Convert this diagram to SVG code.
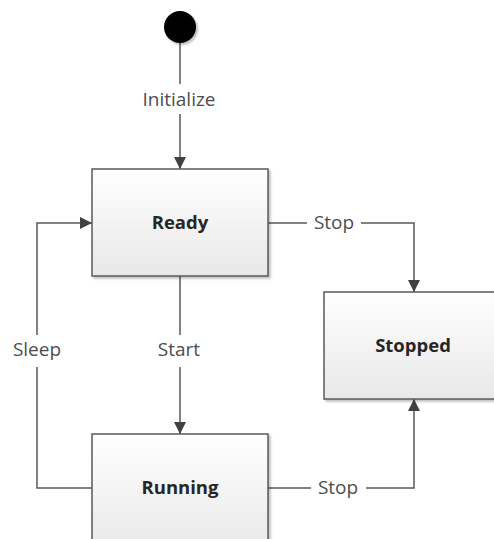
<svg xmlns="http://www.w3.org/2000/svg" width="494" height="539" viewBox="0 0 494 539">
  <defs>
    <linearGradient id="boxFill" x1="0" y1="0" x2="0" y2="1">
      <stop offset="0" stop-color="#ffffff"/>
      <stop offset="1" stop-color="#e8e8e8"/>
    </linearGradient>
    <filter id="shadow" x="-10%" y="-10%" width="125%" height="125%">
      <feGaussianBlur in="SourceAlpha" stdDeviation="1.2"/>
      <feOffset dx="1.5" dy="1.5" result="b"/>
      <feComponentTransfer><feFuncA type="linear" slope="0.25"/></feComponentTransfer>
      <feMerge><feMergeNode/><feMergeNode in="SourceGraphic"/></feMerge>
    </filter>
    <marker id="arrow" viewBox="0 0 12 12" refX="12" refY="6" markerWidth="12" markerHeight="12" markerUnits="userSpaceOnUse" orient="auto">
      <path d="M0,0 L12,6 L0,12 z" fill="#404040"/>
    </marker>
  </defs>
  <style>
    .state { fill: url(#boxFill); stroke: #595959; stroke-width: 1.5; filter: url(#shadow); }
    .name { font-family: "Open Sans", "Liberation Sans", sans-serif; font-size: 18.5px; font-weight: bold; fill: #262626; text-anchor: middle; }
    .edge { fill: none; stroke: #595959; stroke-width: 1.5; }
    .label { font-family: "Open Sans", "Liberation Sans", sans-serif; font-size: 19px; fill: #4d4d4d; text-anchor: middle; }
  </style>

  <rect width="494" height="539" fill="#ffffff"/>

  <!-- transitions -->
  <g id="connectors">
    <path class="edge" d="M180,43 V84"/>
    <path class="edge" d="M180,114 V169" marker-end="url(#arrow)"/>
    <text class="label" x="179" y="106">Initialize</text>

    <path class="edge" d="M268,223 H307"/>
    <path class="edge" d="M361,223 H414 V292" marker-end="url(#arrow)"/>
    <text class="label" x="334" y="229">Stop</text>

    <path class="edge" d="M180,276 V335"/>
    <path class="edge" d="M180,367 V434" marker-end="url(#arrow)"/>
    <text class="label" x="179" y="356">Start</text>

    <path class="edge" d="M92,488 H37 V367"/>
    <path class="edge" d="M37,335 V223 H92" marker-end="url(#arrow)"/>
    <text class="label" x="37" y="356">Sleep</text>

    <path class="edge" d="M268,488 H311"/>
    <path class="edge" d="M366,488 H414 V399" marker-end="url(#arrow)"/>
    <text class="label" x="338" y="494">Stop</text>
  </g>

  <!-- initial pseudostate -->
  <g id="initial">
    <circle cx="180" cy="27" r="16" fill="#000000" filter="url(#shadow)"/>
  </g>

  <g id="ready">
    <rect class="state" x="92" y="169" width="176" height="107"/>
    <text class="name" x="180" y="229">Ready</text>
  </g>

  <g id="stopped">
    <rect class="state" x="324" y="292" width="180" height="107"/>
    <text class="name" x="413" y="352">Stopped</text>
  </g>

  <g id="running">
    <rect class="state" x="92" y="434" width="176" height="120"/>
    <text class="name" x="180" y="494">Running</text>
  </g>
</svg>
